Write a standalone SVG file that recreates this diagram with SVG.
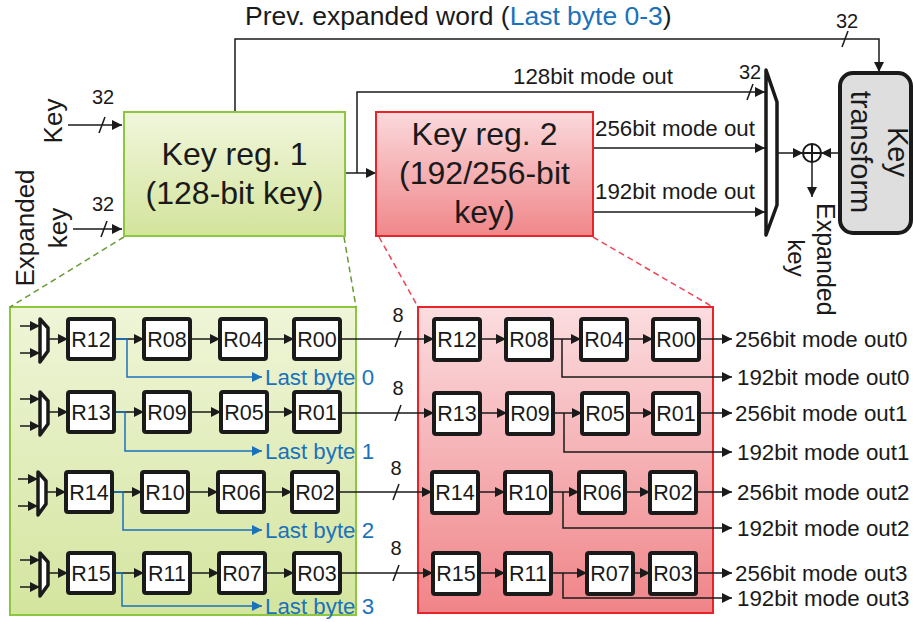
<svg xmlns="http://www.w3.org/2000/svg" width="913" height="622" viewBox="0 0 913 622">
<defs>
<linearGradient id="gG" x1="0" y1="0" x2="0" y2="1"><stop offset="0" stop-color="#f1f6dc"/><stop offset="1" stop-color="#d3e49c"/></linearGradient>
<linearGradient id="gR" x1="0" y1="0" x2="0" y2="1"><stop offset="0" stop-color="#fbd9dc"/><stop offset="1" stop-color="#f0878a"/></linearGradient>
<linearGradient id="gG2" x1="0" y1="0" x2="0" y2="1"><stop offset="0" stop-color="#eff5d8"/><stop offset="1" stop-color="#d4e59f"/></linearGradient>
<linearGradient id="gR2" x1="0" y1="0" x2="0" y2="1"><stop offset="0" stop-color="#fbdde0"/><stop offset="1" stop-color="#f08488"/></linearGradient>
<marker id="ar" viewBox="0 0 10 10" refX="10" refY="5" markerWidth="10" markerHeight="10" markerUnits="userSpaceOnUse" orient="auto"><path d="M0,0 L10,5 L0,10 z" fill="#1a1a1a"/></marker>
<marker id="ab" viewBox="0 0 10 10" refX="10" refY="5" markerWidth="10" markerHeight="10" markerUnits="userSpaceOnUse" orient="auto"><path d="M0,0 L10,5 L0,10 z" fill="#1a72bb"/></marker>
</defs>
<style>
text{font-family:"Liberation Sans",Arial,sans-serif;fill:#1a1a1a}
.big{font-size:32px;text-anchor:middle}
.lab{font-size:22.3px}
.num{font-size:20px;text-anchor:middle}
.reg{font-size:21.5px;text-anchor:middle}
.blue{fill:#1a72bb}
.rb{fill:#fff;stroke:#1a1a1a;stroke-width:4}
.ln{fill:none;stroke:#1a1a1a;stroke-width:1.5}
.la{fill:none;stroke:#1a1a1a;stroke-width:1.5;marker-end:url(#ar)}
.lb{fill:none;stroke:#1a72bb;stroke-width:1.5;marker-end:url(#ab)}
.gd{fill:none;stroke:#6a9a35;stroke-width:1.5;stroke-dasharray:6 4}
.rd{fill:none;stroke:#ee4455;stroke-width:1.5;stroke-dasharray:6 4}
.mx{fill:#fff;stroke:#1a1a1a;stroke-width:3.5;stroke-linejoin:round}
</style>

<!-- regions -->
<g id="region-green"><rect x="10" y="307" width="346" height="308" fill="url(#gG2)" stroke="#8dc63f" stroke-width="2"/></g>
<g id="region-red"><rect x="418" y="307" width="295" height="306" fill="url(#gR2)" stroke="#e8242b" stroke-width="2"/></g>

<!-- top label -->
<text x="245" y="25" style="font-size:26.5px">Prev. expanded word (<tspan class="blue">Last byte 0-3</tspan>)</text>

<g id="connectors">
<!-- dashed zoom lines -->
<path class="gd" d="M124,237 L10,307"/>
<path class="gd" d="M344,237 L356,307"/>
<path class="rd" d="M379,237 L418,307"/>
<path class="rd" d="M593,237 L713,307"/>
<!-- inputs -->
<path class="la" d="M68,125 H122"/><path class="ln" d="M99,133 L105,117"/>
<text class="num" x="103" y="104">32</text>
<path class="la" d="M73,229 H122"/><path class="ln" d="M101,237 L107,221"/>
<text class="num" x="103" y="211">32</text>
<!-- prev expanded word -->
<path class="la" d="M235,112 V39 H879 V72"/><path class="ln" d="M842,47 L848,31"/>
<text class="num" x="847" y="28">32</text>
<!-- key reg 1 outputs -->
<path class="la" d="M345,173 H376"/>
<path class="la" d="M357,173 V92 H765"/><path class="ln" d="M747,100 L753,84"/>
<text class="num" x="750" y="79">32</text>
<text class="lab" x="513" y="84">128bit mode out</text>
<path class="la" d="M593,148 H765"/>
<text class="lab" x="595" y="136">256bit mode out</text>
<path class="la" d="M593,212 H765"/>
<text class="lab" x="595" y="199">192bit mode out</text>
<!-- mux out / xor -->
<path class="la" d="M777,153 H803"/>
<path class="la" d="M840,153 H821"/>
<path class="la" d="M812,162 V197"/>

<!-- green rows -->
<g id="grow0">
<path class="la" d="M20,326 H40"/><path class="la" d="M20,353 H40"/><path class="la" d="M48,339 H68"/>
<path class="la" d="M114,339 H144"/><path class="la" d="M190,339 H220"/><path class="la" d="M266,339 H294"/>
<path class="lb" d="M114,339 H127 V377 H262"/>
</g>
<g id="grow1">
<path class="la" d="M20,399 H40"/><path class="la" d="M20,426 H40"/><path class="la" d="M48,412 H68"/>
<path class="la" d="M114,412 H144"/><path class="la" d="M190,412 H221"/><path class="la" d="M267,412 H294"/>
<path class="lb" d="M114,412 H125 V451 H262"/>
</g>
<g id="grow2">
<path class="la" d="M18,479 H38"/><path class="la" d="M18,506 H38"/><path class="la" d="M46,492 H66"/>
<path class="la" d="M112,492 H142"/><path class="la" d="M188,492 H218"/><path class="la" d="M264,492 H292"/>
<path class="lb" d="M112,492 H123 V530 H262"/>
</g>
<g id="grow3">
<path class="la" d="M20,560 H40"/><path class="la" d="M20,587 H40"/><path class="la" d="M48,573 H68"/>
<path class="la" d="M114,573 H144"/><path class="la" d="M190,573 H219"/><path class="la" d="M265,573 H294"/>
<path class="lb" d="M114,573 H122 V606 H262"/>
</g>

<!-- green -> red links -->
<path class="la" d="M340,339 H434"/><path class="ln" d="M395,347 L401,331"/><text class="num" x="398" y="322">8</text>
<path class="la" d="M340,413 H434"/><path class="ln" d="M395,421 L401,405"/><text class="num" x="398" y="395">8</text>
<path class="la" d="M338,492 H432"/><path class="ln" d="M393,500 L399,484"/><text class="num" x="396" y="475">8</text>
<path class="la" d="M340,573 H433"/><path class="ln" d="M393,581 L399,565"/><text class="num" x="396" y="555">8</text>

<!-- red rows -->
<g id="rrow0">
<path class="la" d="M480,339 H506"/><path class="la" d="M552,339 H581"/><path class="la" d="M627,339 H653"/>
<path class="la" d="M562,339 V377 H732"/><path class="la" d="M699,339 H732"/>
</g>
<g id="rrow1">
<path class="la" d="M480,413 H507"/><path class="la" d="M553,413 H582"/><path class="la" d="M628,413 H653"/>
<path class="la" d="M564,413 V452 H732"/><path class="la" d="M699,413 H732"/>
</g>
<g id="rrow2">
<path class="la" d="M478,492 H505"/><path class="la" d="M551,492 H579"/><path class="la" d="M625,492 H650"/>
<path class="la" d="M563,492 V528 H732"/><path class="la" d="M696,492 H732"/>
</g>
<g id="rrow3">
<path class="la" d="M479,573 H505"/><path class="la" d="M551,573 H587"/><path class="la" d="M633,573 H650"/>
<path class="la" d="M563,573 V598 H732"/><path class="la" d="M696,573 H732"/>
</g>
</g>

<!-- top nodes -->
<g id="key-reg-1">
<rect x="124" y="112" width="221" height="124" fill="url(#gG)" stroke="#8dc63f" stroke-width="2"/>
<text class="big" x="234.5" y="165">Key reg. 1</text>
<text class="big" x="234.5" y="204">(128-bit key)</text>
</g>
<g id="key-reg-2">
<rect x="376" y="112" width="217" height="124" fill="url(#gR)" stroke="#e8242b" stroke-width="2"/>
<text class="big" x="484.5" y="145">Key reg. 2</text>
<text class="big" x="484.5" y="184">(192/256-bit</text>
<text class="big" x="484.5" y="223">key)</text>
</g>
<g id="mux-main"><polygon class="mx" points="766,70 777,102 777,205 766,235" stroke-width="4"/></g>
<g id="xor"><circle cx="812" cy="153" r="9" fill="none" stroke="#1a1a1a" stroke-width="2"/><path d="M803,153 H821 M812,144 V162" stroke="#1a1a1a" stroke-width="2"/></g>
<g id="key-transform">
<rect x="840" y="73" width="71" height="160" rx="13" fill="#dedede" stroke="#1a1a1a" stroke-width="4"/>
<text transform="translate(888,152) rotate(90)" style="font-size:29px;text-anchor:middle">Key</text>
<text transform="translate(851,152) rotate(90)" style="font-size:29px;text-anchor:middle">transform</text>
</g>

<!-- side labels -->
<g id="label-key"><text transform="translate(62,121) rotate(-90)" style="font-size:26px;text-anchor:middle">Key</text></g>
<g id="label-expanded-key">
<text transform="translate(34,228) rotate(-90)" style="font-size:26px;text-anchor:middle">Expanded</text>
<text transform="translate(67,228) rotate(-90)" style="font-size:26px;text-anchor:middle">key</text>
</g>
<g id="label-expanded-key-out">
<text transform="translate(817,203) rotate(90)" style="font-size:25px">Expanded</text>
<text transform="translate(788,258) rotate(90)" style="font-size:24px;text-anchor:middle">key</text>
</g>

<!-- green registers -->
<g id="g-row0">
<polygon class="mx" points="40,319 48,328 48,351 40,362"/>
<rect class="rb" x="68" y="319" width="46" height="40" rx="2"/><text class="reg" x="91" y="347">R12</text>
<rect class="rb" x="144" y="319" width="46" height="40" rx="2"/><text class="reg" x="167" y="347">R08</text>
<rect class="rb" x="220" y="319" width="46" height="40" rx="2"/><text class="reg" x="243" y="347">R04</text>
<rect class="rb" x="294" y="319" width="46" height="40" rx="2"/><text class="reg" x="317" y="347">R00</text>
<text class="lab blue" x="265" y="385">Last byte 0</text>
</g>
<g id="g-row1">
<polygon class="mx" points="40,392 48,401 48,424 40,435"/>
<rect class="rb" x="68" y="392" width="46" height="40" rx="2"/><text class="reg" x="91" y="420">R13</text>
<rect class="rb" x="144" y="392" width="46" height="40" rx="2"/><text class="reg" x="167" y="420">R09</text>
<rect class="rb" x="221" y="392" width="46" height="40" rx="2"/><text class="reg" x="244" y="420">R05</text>
<rect class="rb" x="294" y="392" width="46" height="40" rx="2"/><text class="reg" x="317" y="420">R01</text>
<text class="lab blue" x="265" y="459">Last byte 1</text>
</g>
<g id="g-row2">
<polygon class="mx" points="38,472 46,481 46,504 38,515"/>
<rect class="rb" x="66" y="472" width="46" height="40" rx="2"/><text class="reg" x="89" y="500">R14</text>
<rect class="rb" x="142" y="472" width="46" height="40" rx="2"/><text class="reg" x="165" y="500">R10</text>
<rect class="rb" x="218" y="472" width="46" height="40" rx="2"/><text class="reg" x="241" y="500">R06</text>
<rect class="rb" x="292" y="472" width="46" height="40" rx="2"/><text class="reg" x="315" y="500">R02</text>
<text class="lab blue" x="265" y="538">Last byte 2</text>
</g>
<g id="g-row3">
<polygon class="mx" points="40,553 48,562 48,585 40,596"/>
<rect class="rb" x="68" y="553" width="46" height="40" rx="2"/><text class="reg" x="91" y="581">R15</text>
<rect class="rb" x="144" y="553" width="46" height="40" rx="2"/><text class="reg" x="167" y="581">R11</text>
<rect class="rb" x="219" y="553" width="46" height="40" rx="2"/><text class="reg" x="242" y="581">R07</text>
<rect class="rb" x="294" y="553" width="46" height="40" rx="2"/><text class="reg" x="317" y="581">R03</text>
<text class="lab blue" x="265" y="614">Last byte 3</text>
</g>

<!-- red registers -->
<g id="r-row0">
<rect class="rb" x="434" y="319" width="46" height="41" rx="2"/><text class="reg" x="457" y="347">R12</text>
<rect class="rb" x="506" y="319" width="46" height="41" rx="2"/><text class="reg" x="529" y="347">R08</text>
<rect class="rb" x="581" y="319" width="46" height="41" rx="2"/><text class="reg" x="604" y="347">R04</text>
<rect class="rb" x="653" y="319" width="46" height="41" rx="2"/><text class="reg" x="676" y="347">R00</text>
<text class="lab" x="735" y="347">256bit mode out0</text>
<text class="lab" x="737" y="385">192bit mode out0</text>
</g>
<g id="r-row1">
<rect class="rb" x="434" y="393" width="46" height="41" rx="2"/><text class="reg" x="457" y="421">R13</text>
<rect class="rb" x="507" y="393" width="46" height="41" rx="2"/><text class="reg" x="530" y="421">R09</text>
<rect class="rb" x="582" y="393" width="46" height="41" rx="2"/><text class="reg" x="605" y="421">R05</text>
<rect class="rb" x="653" y="393" width="46" height="41" rx="2"/><text class="reg" x="676" y="421">R01</text>
<text class="lab" x="735" y="421">256bit mode out1</text>
<text class="lab" x="737" y="460">192bit mode out1</text>
</g>
<g id="r-row2">
<rect class="rb" x="432" y="472" width="46" height="41" rx="2"/><text class="reg" x="455" y="500">R14</text>
<rect class="rb" x="505" y="472" width="46" height="41" rx="2"/><text class="reg" x="528" y="500">R10</text>
<rect class="rb" x="579" y="472" width="46" height="41" rx="2"/><text class="reg" x="602" y="500">R06</text>
<rect class="rb" x="650" y="472" width="46" height="41" rx="2"/><text class="reg" x="673" y="500">R02</text>
<text class="lab" x="737" y="500">256bit mode out2</text>
<text class="lab" x="737" y="536">192bit mode out2</text>
</g>
<g id="r-row3">
<rect class="rb" x="433" y="553" width="46" height="41" rx="2"/><text class="reg" x="456" y="581">R15</text>
<rect class="rb" x="505" y="553" width="46" height="41" rx="2"/><text class="reg" x="528" y="581">R11</text>
<rect class="rb" x="587" y="553" width="46" height="41" rx="2"/><text class="reg" x="610" y="581">R07</text>
<rect class="rb" x="650" y="553" width="46" height="41" rx="2"/><text class="reg" x="673" y="581">R03</text>
<text class="lab" x="735" y="581">256bit mode out3</text>
<text class="lab" x="737" y="606">192bit mode out3</text>
</g>
</svg>
